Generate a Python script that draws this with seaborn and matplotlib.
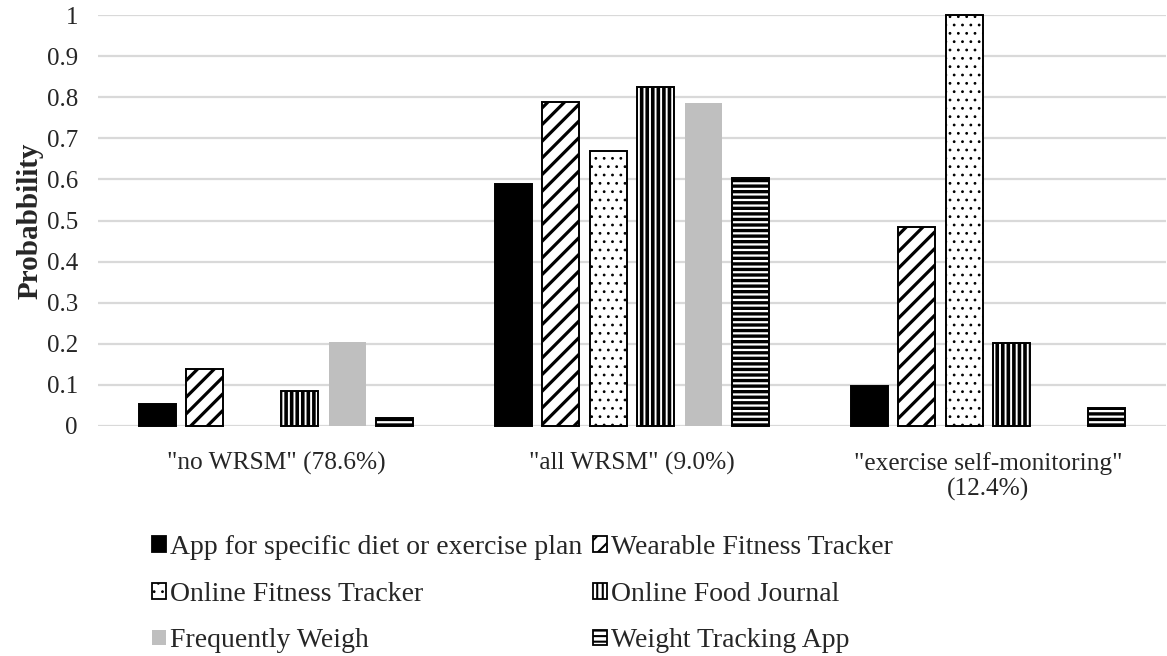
import numpy as np
import pandas as pd
import matplotlib
matplotlib.use("Agg")
import matplotlib.pyplot as plt
from matplotlib.patches import Patch
import seaborn as sns

# Latent classes and device types
clusters = ['"no WRSM" (78.6%)', '"all WRSM" (9.0%)',
            '"exercise self-monitoring"\n(12.4%)']
devices = ["App for specific diet or exercise plan", "Wearable Fitness Tracker",
           "Online Fitness Tracker", "Online Food Journal",
           "Frequently Weigh", "Weight Tracking App"]

# Probability of each behaviour within each class
app_plan = [0.053, 0.588, 0.098]
wearable = [0.138, 0.788, 0.485]
online_fitness = [0.0, 0.668, 1.0]
food_journal = [0.085, 0.826, 0.203]
weigh = [0.205, 0.787, 0.0]
weight_app = [0.020, 0.603, 0.045]

series = [app_plan, wearable, online_fitness, food_journal, weigh, weight_app]
yticks = [0, 0.1, 0.2, 0.3, 0.4, 0.5, 0.6, 0.7, 0.8, 0.9, 1]
ytick_labels = ["0", "0.1", "0.2", "0.3", "0.4", "0.5", "0.6", "0.7", "0.8", "0.9", "1"]

df = pd.DataFrame({
    "cluster": clusters * len(devices),
    "device": [d for d in devices for _ in clusters],
    "prob": [v for s in series for v in s],
})

faces = ["black", "white", "white", "white", "#bfbfbf", "white"]
edges = ["black", "black", "black", "black", "none", "black"]
hatches = [None, "//", "..", "|||", None, "---"]
hatch_lw = [1.0, 2.3, 0.8, 2.6, 1.0, 2.4]


def with_hatch_width(artist, lw):
    """Give the artist its own hatch line width."""
    if hasattr(artist, "set_hatch_linewidth"):
        artist.set_hatch_linewidth(lw)
    artist._hatch_linewidth = lw
    orig = artist.draw

    def draw(renderer):
        with plt.rc_context({"hatch.linewidth": lw}):
            orig(renderer)
    artist.draw = draw


sns.set_style("white")
plt.rcParams["font.family"] = ["Liberation Serif", "DejaVu Serif"]

fig = plt.figure(figsize=(11.67, 6.56), dpi=100)
ax = fig.add_axes([98 / 1167, 1 - 426 / 656, 1068 / 1167, 411 / 656])

sns.barplot(data=df, x="cluster", y="prob", hue="device", order=clusters,
            hue_order=devices, palette=["black"] * 6, width=0.8, gap=0.22,
            ax=ax, legend=False, zorder=3)

for cont, fc, ec, h, lw in zip(ax.containers, faces, edges, hatches, hatch_lw):
    for bar in cont:
        bar.set_facecolor(fc)
        bar.set_edgecolor(ec)
        bar.set_linewidth(1.4 if ec != "none" else 0)
        if h:
            bar.set_hatch(h)
            with_hatch_width(bar, lw)
        if bar.get_height() == 0:
            bar.set_visible(False)
        bar.set_clip_on(False)

ax.set_xlim(-0.5, 2.5)
ax.set_ylim(0, 1)
ax.set_yticks(yticks)
ax.set_yticklabels(ytick_labels, fontsize=18)
ax.tick_params(axis="x", labelsize=18.3, length=0, pad=19)
for lbl in ax.get_xticklabels():
    lbl.set_linespacing(1.15)
ax.tick_params(axis="y", length=0, pad=14.5)
ax.yaxis.grid(True, color="#d9d9d9", linewidth=1.6, zorder=0)
ax.set_axisbelow(True)
for s in ax.spines.values():
    s.set_visible(False)
ax.set_xlabel("")
ax.set_ylabel("Probabbility", fontsize=21, fontweight="bold", labelpad=2)

handles = []
for d, fc, ec, h in zip(devices, faces, edges, hatches):
    handles.append(Patch(facecolor=fc, edgecolor=ec, hatch=h, linewidth=1.3, label=d))
order = [0, 2, 4, 1, 3, 5]
leg = fig.legend([handles[i] for i in order], [devices[i] for i in order],
                 loc="upper left", bbox_to_anchor=(152 / 1167, 1 - 535 / 656),
                 ncol=2, frameon=False, fontsize=20, handlelength=0.5,
                 handleheight=0.5, handletextpad=0.15, columnspacing=0.4,
                 labelspacing=0.78, borderaxespad=0, borderpad=0)
for i, p in zip(order, leg.get_patches()):
    if hatches[i]:
        with_hatch_width(p, min(hatch_lw[i], 1.5))

fig.savefig("out.png", dpi=100)
